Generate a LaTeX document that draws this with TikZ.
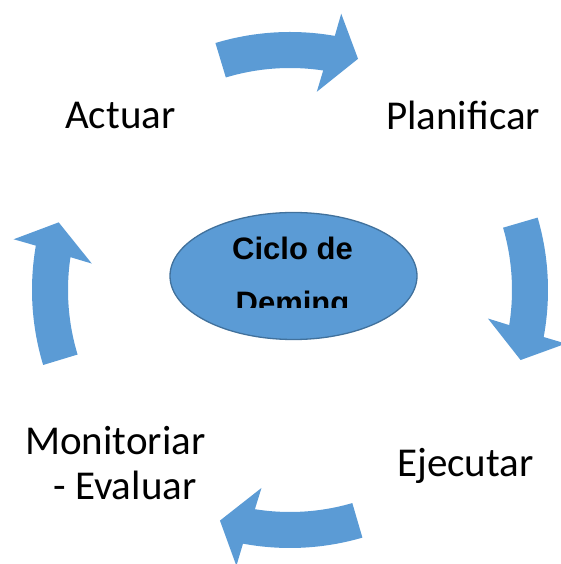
\documentclass[tikz,border=0pt]{standalone}
\usepackage{fontspec}
\setmainfont{Carlito}
\newfontfamily\arialfont{Liberation Sans}
\usetikzlibrary{calc,shapes.geometric}
\definecolor{officeblue}{HTML}{5B9BD5}
\definecolor{ellborder}{HTML}{41719C}
\newcommand\cyclearrow[1]{%
  \pgfmathsetmacro\cyA{#1}%
  \pgfmathsetmacro\cyB{#1-26.8}%
  \pgfmathsetmacro\cyC{#1-25.4}%
  \pgfmathsetmacro\cyD{#1-27.3}%
  \pgfmathsetmacro\cyE{#1-33.2}%
  \pgfmathsetmacro\cyF{#1-24.5}%
  \fill[officeblue] ($(C)+(\cyA:258pt)$) arc[start angle=\cyA, end angle=\cyB, radius=258pt]
    -- ($(C)+(\cyD:281pt)$) -- ($(C)+(\cyE:241pt)$) -- ($(C)+(\cyF:200pt)$)
    -- ($(C)+(\cyC:222pt)$) arc[start angle=\cyC, end angle=\cyA, radius=222pt] -- cycle;
}
\begin{document}
\begin{tikzpicture}[x=1pt,y=1pt,
  label/.style={inner sep=0pt, anchor=base west, font=\fontsize{41}{45}\selectfont},
  center/.style={inner sep=0pt, anchor=base, font=\arialfont\bfseries\fontsize{31}{36}\selectfont}]
\useasboundingbox (0,0) rectangle (561,564);
\coordinate (C) at (290,274);
\cyclearrow{106.8}
\cyclearrow{16.3}
\cyclearrow{-73.7}
\cyclearrow{196.9}
\node (deming) [ellipse, draw=ellborder, line width=1.3pt, fill=officeblue,
  minimum width=247pt, minimum height=127pt, inner sep=0pt] at (293.5,288) {};
\begin{scope}
  \clip (160,256) rectangle (430,352);
  \node (ciclo) [center] at (292.5,304) {Ciclo de};
  \node (demingtxt) [center] at (292.5,250) {Deming};
\end{scope}
\node (actuar) [label] at (65,435) {Actuar};
\node (planificar) [label] at (386,434) {Planificar};
\node (monitoriar) [label] at (25,109) {Monitoriar};
\node (evaluar) [label] at (53,64) {- Evaluar};
\node (ejecutar) [label] at (397,87) {Ejecutar};
\end{tikzpicture}
\end{document}
